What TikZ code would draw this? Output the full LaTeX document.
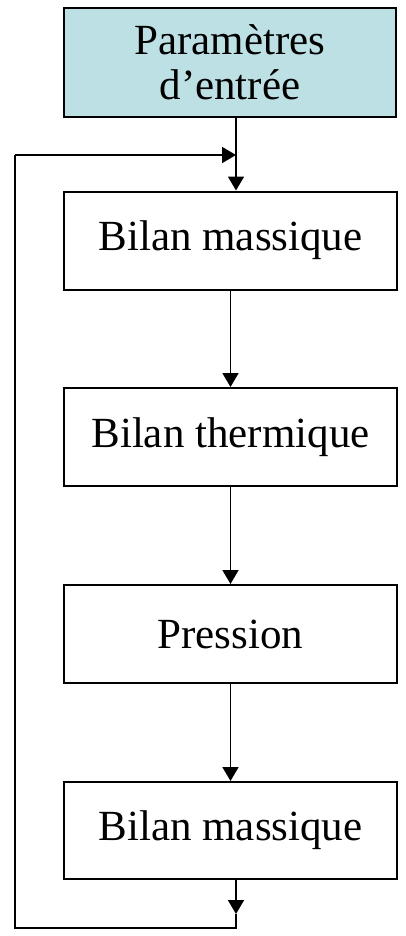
\documentclass[tikz,border=0pt]{standalone}
\usepackage{fontspec}
\setmainfont{Liberation Serif}
\usetikzlibrary{arrows.meta}
\definecolor{tealfill}{RGB}{188,224,227}
\tikzset{
  box/.style={draw=black, line width=2bp, rectangle, minimum width=332bp, inner sep=0pt, align=center, font=\fontsize{43bp}{45bp}\selectfont},
  arr/.style={line width=1.8bp, -{Triangle[length=14bp,width=16bp]}},
  ln/.style={line width=1.8bp}
}
\begin{document}
\begin{tikzpicture}[x=1bp,y=-1bp]
\useasboundingbox (0,0) rectangle (405,936);
\node[box, fill=tealfill, minimum height=109bp] (b1) at (230,62.5) {Paramètres\\d’entrée};
\node[box, minimum height=98bp] (b2) at (230.5,240.5) {Bilan massique};
\node[box, minimum height=98bp] (b3) at (230.5,437) {Bilan thermique};
\node[box, minimum height=98bp] (b4) at (230.5,634) {Pression};
\node[box, minimum height=97bp] (b5) at (230.5,830.5) {Bilan massique};
\coordinate (c1) at (236,914);
\coordinate (c2) at (236,928);
\coordinate (c3) at (15,928);
\coordinate (c4) at (15,155);
\coordinate (c5) at (236,155);
\draw[arr] (b1.south -| c5) -- (b2.north -| c5);
\draw[arr] (b2.south) -- (b3.north);
\draw[arr] (b3.south) -- (b4.north);
\draw[arr] (b4.south) -- (b5.north);
\draw[arr] (b5.south -| c1) -- (c1);
\draw[ln] (c1) -- (c2) -- (c3) -- (c4);
\draw[arr] (c4) -- (c5);
\end{tikzpicture}
\end{document}
